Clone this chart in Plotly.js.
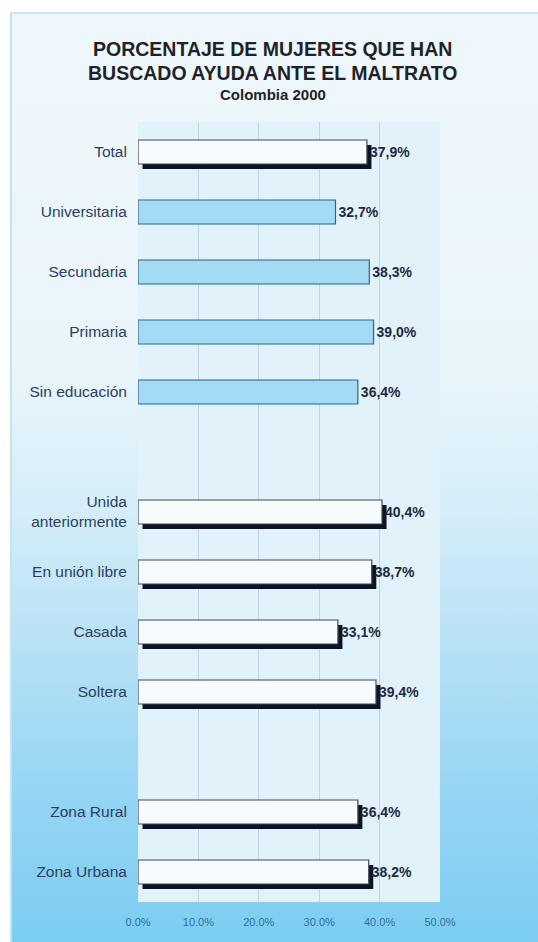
<!DOCTYPE html>
<html><head><meta charset="utf-8">
<script src="https://cdn.plot.ly/plotly-3.0.1.min.js"></script>
<style>
html,body{margin:0;padding:0;background:#ffffff;}
#bg{position:absolute;left:10px;top:12px;width:528px;height:930px;box-sizing:border-box;
background:linear-gradient(to bottom,#eef7fc 0%,#eaf5fb 38%,#d4edf8 54%,#b2dff5 70%,#94d4f3 85%,#7ccdf2 100%);
border-left:2px solid #bfe5ee;border-top:2px solid #c6e8f0;}
#chart{position:absolute;left:0;top:0;width:538px;height:942px;}
</style></head><body><div id="bg"></div><div id="chart"></div>
<script>
const categories = ['Total','Universitaria','Secundaria','Primaria','Sin educación',' ',
  'Unida<br>anteriormente','En unión libre','Casada','Soltera','  ','Zona Rural','Zona Urbana'];
const values = [37.9,32.7,38.3,39.0,36.4,null,40.4,38.7,33.1,39.4,null,36.4,38.2];
const groups = ['total','edu','edu','edu','edu',null,'estado','estado','estado','estado',null,'zona','zona'];
const tickValues = [0,10,20,30,40,50];
const tickLabels = ['0.0%','10.0%','20.0%','30.0%','40.0%','50.0%'];
const titleLines = ['PORCENTAJE DE MUJERES QUE HAN','BUSCADO AYUDA ANTE EL MALTRATO'];
const subtitle = 'Colombia 2000';

const isBlue = groups.map(g => g === 'edu');
const shadowValues = values.map((v,i) => (isBlue[i] || v === null) ? null : v);

const shadow = {
  type:'bar', orientation:'h', y:categories, x:shadowValues, base:0.75,
  width:0.4, offset:-0.2+5/60,
  marker:{color:'#0b1526', line:{width:0}},
  hoverinfo:'skip', showlegend:false
};
const main = {
  type:'bar', orientation:'h', y:categories, x:values,
  width:0.4, offset:-0.2,
  marker:{color:isBlue.map(b => b ? '#a3daf4' : '#f7fbfe'),
          line:{color:isBlue.map(b => b ? '#2d6786' : '#3e4a55'), width:1.2}},
  texttemplate:'%{x:.1f}%', textposition:'outside', cliponaxis:false,
  textfont:{family:'Liberation Sans, Arial, sans-serif', size:14, weight:'bold', color:'#1d2a40'},
  hoverinfo:'skip', showlegend:false
};

const layout = {
  width:538, height:942,
  margin:{l:138, r:98, t:122, b:40},
  paper_bgcolor:'rgba(0,0,0,0)', plot_bgcolor:'#e2f2fa',
  barmode:'overlay', separators:',.',
  font:{family:'Liberation Sans, Arial, sans-serif', color:'#2c3e56'},
  xaxis:{range:[0,50], tickvals:tickValues, ticktext:tickLabels, showgrid:true,
    gridcolor:'#bfd6e2', gridwidth:1, zeroline:false, showline:false,
    ticks:'outside', ticklen:10, tickcolor:'rgba(0,0,0,0)',
    tickfont:{size:11, color:'#2f6e9c'}, fixedrange:true},
  yaxis:{type:'category', categoryorder:'array', categoryarray:categories,
    autorange:'reversed', showgrid:false, zeroline:false, showline:false,
    ticks:'outside', ticklen:7, tickcolor:'rgba(0,0,0,0)',
    tickfont:{size:15.5, color:'#2b4060'}, fixedrange:true},
  annotations:[
    {text:titleLines[0], xref:'paper', yref:'paper', x:0.447, y:(902-49)/780, showarrow:false,
     font:{size:19.5, weight:'bold', color:'#1f2329'}, xanchor:'center', yanchor:'middle'},
    {text:titleLines[1], xref:'paper', yref:'paper', x:0.447, y:(902-73)/780, showarrow:false,
     font:{size:19.5, weight:'bold', color:'#1f2329'}, xanchor:'center', yanchor:'middle'},
    {text:subtitle, xref:'paper', yref:'paper', x:0.447, y:(902-95)/780, showarrow:false,
     font:{size:15, weight:'bold', color:'#1f2329'}, xanchor:'center', yanchor:'middle'}
  ]
};
Plotly.newPlot('chart',[shadow, main],layout,{displayModeBar:false, staticPlot:true});
</script></body></html>
